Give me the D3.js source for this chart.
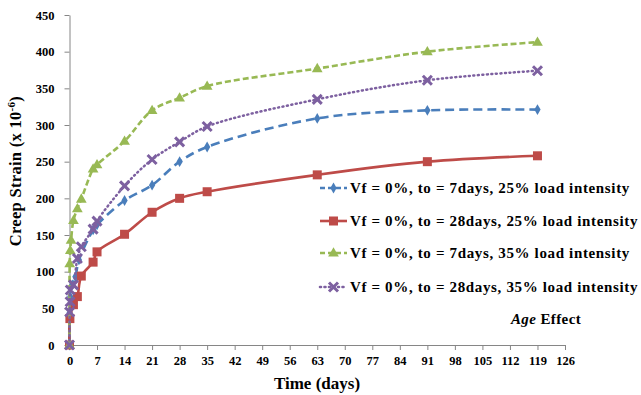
<!DOCTYPE html>
<html>
<head>
<meta charset="utf-8">
<script src="https://cdn.jsdelivr.net/npm/d3@7"></script>
<style>
  body { margin: 0; background: #fff; }
  svg { display: block; font-family: "Liberation Serif", "Times New Roman", serif; font-weight: bold; }
</style>
</head>
<body>
<svg id="chart" width="641" height="395"></svg>
<script>
// x ticks (days) and y ticks
const xTicks = d3.range(0, 127, 7);
const yTicks = d3.range(0, 451, 50);

// series: time (days) and creep strain (x 10^-6)
const daysBlue   = [0, 0.05, 0.2, 0.7, 1.5, 2.4, 6, 7, 14, 21, 28, 35, 63, 91, 119];
const strainBlue = [0, 44, 66, 82, 93, 116, 157, 164, 197, 218, 250, 270, 309, 320, 321];

const daysRed    = [0, 0.1, 1, 2, 3, 6, 7, 14, 21, 28, 35, 63, 91, 119];
const strainRed  = [0, 36, 55, 66, 94, 113, 127, 151, 181, 200, 209, 232, 250, 258];

const daysGreen   = [0, 0.05, 0.2, 0.4, 1, 2, 3, 6, 7, 14, 21, 28, 35, 63, 91, 119];
const strainGreen = [0, 111, 129, 143, 170, 186, 199, 240, 246, 278, 320, 337, 353, 377, 400, 413];

const daysPurple   = [0, 0.05, 0.15, 0.2, 1, 2, 3, 6, 7, 14, 21, 28, 35, 63, 91, 119];
const strainPurple = [0, 45, 59, 75, 82, 118, 134, 158, 169, 217, 253, 277, 298, 335, 361, 374];

const seriesNames = [
  "Vf = 0%, to = 7days, 25% load intensity",
  "Vf = 0%, to = 28days, 25% load intensity",
  "Vf = 0%, to = 7days, 35% load intensity",
  "Vf = 0%, to = 28days, 35% load intensity"
];

const series = [
  { name: seriesNames[0], x: daysBlue, y: strainBlue, color: "#4a7ebb", dash: "9,5", marker: "diamond" },
  { name: seriesNames[1], x: daysRed, y: strainRed, color: "#be4b48", dash: null, marker: "square" },
  { name: seriesNames[2], x: daysGreen, y: strainGreen, color: "#98b954", dash: "6,3", marker: "triangle" },
  { name: seriesNames[3], x: daysPurple, y: strainPurple, color: "#7d60a0", dash: "1,3.5", marker: "x" }
];

const svg = d3.select("#chart");
const margin = { left: 69.5, right: 565, top: 15, bottom: 345 };

const x = d3.scaleLinear().domain([0, 126]).range([margin.left, margin.right]);
const y = d3.scaleLinear().domain([0, 450]).range([margin.bottom, margin.top]);

const axisColor = "#868686";

// axes
const gx = svg.append("g")
  .attr("transform", "translate(0," + margin.bottom + ")")
  .call(d3.axisBottom(x).tickValues(xTicks).tickSize(5).tickSizeOuter(0).tickPadding(6));
const gy = svg.append("g")
  .attr("transform", "translate(" + margin.left + ",0)")
  .call(d3.axisLeft(y).tickValues(yTicks).tickSize(5).tickSizeOuter(0).tickPadding(10));

[gx, gy].forEach(g => {
  g.select(".domain").attr("stroke", axisColor);
  g.selectAll(".tick line").attr("stroke", axisColor);
  g.selectAll(".tick text")
    .attr("fill", "#000")
    .style("font-family", "'Liberation Serif', serif")
    .style("font-weight", "bold")
    .style("font-size", "12.5px");
});

// axis titles
svg.append("text")
  .attr("x", 317).attr("y", 389)
  .attr("text-anchor", "middle")
  .style("font-size", "17px")
  .text("Time (days)");

const yTitle = svg.append("text")
  .attr("transform", "translate(21,171) rotate(-90)")
  .attr("text-anchor", "middle")
  .style("font-size", "16.5px")
  .style("letter-spacing", "0.3px");
yTitle.append("tspan").text("Creep Strain  (x 10");
yTitle.append("tspan").attr("dy", -6).style("font-size", "11px").text("-6");
yTitle.append("tspan").attr("dy", 6).text(")");

// marker drawing
function drawMarker(g, type, color, cx, cy) {
  if (type === "diamond") {
    g.append("path").attr("d", d3.symbol(d3.symbolDiamond, 34)())
      .attr("transform", "translate(" + cx + "," + cy + ")").attr("fill", color);
  } else if (type === "square") {
    g.append("rect").attr("x", cx - 4.5).attr("y", cy - 4.5)
      .attr("width", 9).attr("height", 9).attr("fill", color);
  } else if (type === "triangle") {
    g.append("path").attr("d", d3.symbol(d3.symbolTriangle, 50)())
      .attr("transform", "translate(" + cx + "," + (cy + 0.5) + ")").attr("fill", color);
  } else if (type === "x") {
    const s = 4.5;
    g.append("path")
      .attr("d", "M" + (cx - s) + "," + (cy - s) + "L" + (cx + s) + "," + (cy + s) +
                 "M" + (cx - s) + "," + (cy + s) + "L" + (cx + s) + "," + (cy - s))
      .attr("stroke", color).attr("stroke-width", 3).attr("fill", "none");
  }
}

const line = d3.line()
  .x(d => x(d[0]))
  .y(d => y(d[1]))
  .curve(d3.curveCatmullRom.alpha(0.5));

series.forEach(s => {
  const pts = s.x.map((d, i) => [d, s.y[i]]);
  const g = svg.append("g");
  g.append("path")
    .datum(pts)
    .attr("d", line)
    .attr("fill", "none")
    .attr("stroke", s.color)
    .attr("stroke-width", s.marker === "x" ? 2.5 : 2.6)
    .attr("stroke-linecap", s.marker === "x" ? "round" : "butt")
    .attr("stroke-dasharray", s.dash);
  pts.forEach(p => drawMarker(g, s.marker, s.color, x(p[0]), y(p[1])));
});

// legend
const legendY = [188, 221, 253, 287];
series.forEach((s, i) => {
  const g = svg.append("g");
  const ly = legendY[i];
  g.append("line")
    .attr("x1", 320).attr("x2", 347).attr("y1", ly).attr("y2", ly)
    .attr("stroke", s.color).attr("stroke-width", 2.6)
    .attr("stroke-linecap", s.marker === "x" ? "round" : "butt")
    .attr("stroke-dasharray", s.dash ? (s.marker === "x" ? "1,3.5" : "5,3") : null);
  drawMarker(g, s.marker, s.color, 333.5, ly);
  g.append("text")
    .attr("x", 350).attr("y", ly + 5)
    .style("font-size", "15px")
    .style("letter-spacing", "0.65px")
    .text(s.name);
});

// annotation
const note = svg.append("text")
  .attr("x", 546).attr("y", 324)
  .attr("text-anchor", "middle")
  .style("font-size", "15px")
  .style("letter-spacing", "0.4px");
note.append("tspan").style("font-style", "italic").text("Age");
note.append("tspan").text(" Effect");
</script>
</body>
</html>
